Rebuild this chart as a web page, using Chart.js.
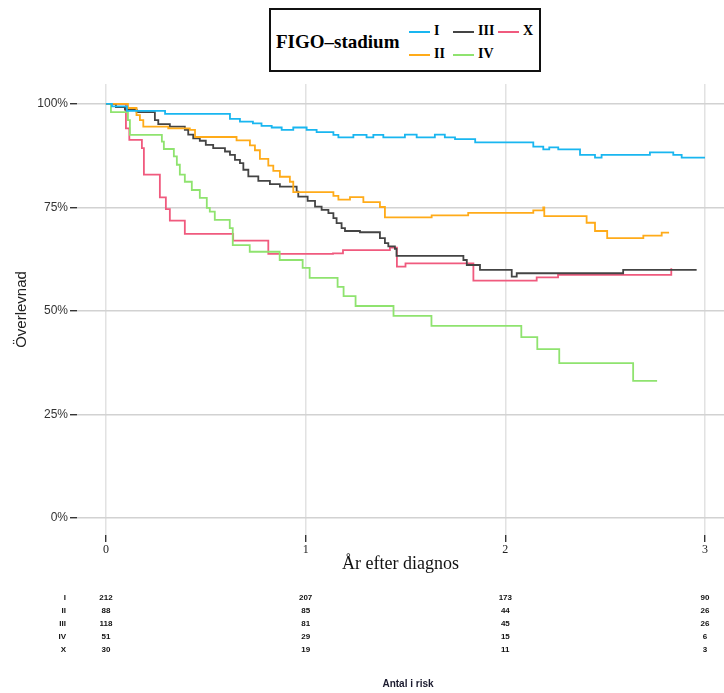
<!DOCTYPE html>
<html>
<head>
<meta charset="utf-8">
<script src="https://cdn.jsdelivr.net/npm/chart.js@4.4.1/dist/chart.umd.min.js"></script>
<style>
  body { margin: 0; background: #fff; }
  #wrap { position: relative; width: 724px; height: 693px; }
  #km { position: absolute; left: 0; top: 0; }
  #legendBox {
    position: absolute; left: 269px; top: 8px; width: 268px; height: 60px;
    border: 2px solid #111; background: #fff;
    font-family: "Liberation Serif", "DejaVu Serif", serif;
  }
  #legendBox .ttl { position: absolute; left: 5px; top: 21px; font-weight: bold; font-size: 19px; line-height: 22px; }
  #legendBox .item { position: absolute; font-size: 14px; font-weight: bold; line-height: 16px; }
  #legendBox .sw { display: inline-block; width: 21px; height: 2px; vertical-align: middle; margin-right: 4px; }
  .risk { position: absolute; font-family: "Liberation Sans", Arial, sans-serif; font-weight: bold; font-size: 8px; line-height: 10px; color: #111; white-space: nowrap; }
  #riskTitle { position: absolute; left: 408px; top: 678px; transform: translateX(-50%); font-family: "Liberation Sans", Arial, sans-serif; font-size: 10px; font-weight: 600; color: #1a1a2e; }
</style>
</head>
<body>
<div id="wrap">
  <canvas id="km" width="724" height="693"></canvas>
  <div id="legendBox"></div>
  <div id="riskBox"></div>
  <div id="riskTitle">Antal i risk</div>
</div>
<script>
// stage labels and colours
const groups = ['I', 'II', 'III', 'IV', 'X'];
const colors = ['#19b6f0', '#ffab19', '#444444', '#8fe36f', '#f05a7e'];

// survival curves (years, percent)
const timeI = [0, 0.03, 0.105, 0.296, 0.621, 0.671, 0.736, 0.779, 0.83, 0.88, 0.938, 1.005, 1.055, 1.139, 1.164, 1.239, 1.305, 1.339, 1.389, 1.497, 1.556, 1.647, 1.697, 1.748, 1.849, 2.14, 2.19, 2.22, 2.265, 2.374, 2.449, 2.482, 2.724, 2.841, 2.883, 3.0];
const survI = [100, 99.4, 98.3, 97.6, 96.4, 95.7, 95.3, 94.7, 94.3, 93.7, 94.3, 93.7, 93.2, 92.5, 91.9, 92.5, 91.9, 92.5, 91.9, 92.6, 91.9, 92.6, 91.9, 91.5, 90.7, 89.7, 89.0, 89.5, 89.0, 87.7, 87.0, 87.7, 88.3, 87.7, 87.0, 87.0];

const timeII = [0, 0.11, 0.153, 0.17, 0.187, 0.312, 0.42, 0.446, 0.654, 0.721, 0.746, 0.771, 0.813, 0.838, 0.871, 0.921, 0.938, 1.139, 1.164, 1.222, 1.289, 1.372, 1.397, 1.631, 1.814, 2.14, 2.19, 2.195, 2.407, 2.449, 2.51, 2.691, 2.783, 2.82];
const survII = [100, 99.0, 97.3, 96.1, 94.5, 94.1, 93.7, 92.0, 91.2, 90.0, 88.8, 86.7, 85.1, 83.8, 82.4, 81.2, 78.7, 77.8, 76.9, 77.5, 76.3, 75.1, 72.6, 73.1, 73.7, 74.3, 75.0, 72.9, 71.3, 69.3, 67.6, 68.2, 68.9, 68.9];

const timeIII = [0, 0.05, 0.095, 0.154, 0.245, 0.262, 0.32, 0.395, 0.412, 0.437, 0.47, 0.50, 0.537, 0.596, 0.621, 0.646, 0.671, 0.688, 0.713, 0.763, 0.821, 0.871, 0.955, 0.963, 1.01, 1.047, 1.08, 1.114, 1.139, 1.155, 1.18, 1.197, 1.272, 1.372, 1.397, 1.414, 1.447, 1.455, 1.79, 1.807, 1.873, 2.032, 2.057, 2.59, 2.958];
const survIII = [100, 99.2, 98.6, 98.0, 96.1, 95.1, 94.5, 93.7, 92.6, 91.7, 91.1, 90.1, 89.3, 88.5, 87.7, 86.5, 85.7, 84.1, 82.5, 81.4, 80.6, 80.0, 78.8, 77.6, 76.6, 75.2, 74.4, 73.6, 72.4, 71.2, 70.0, 69.3, 69.0, 67.6, 66.4, 65.6, 65.0, 63.3, 62.3, 61.1, 59.9, 58.3, 59.1, 59.9, 59.9];

const timeIV = [0, 0.025, 0.11, 0.12, 0.28, 0.29, 0.34, 0.355, 0.37, 0.395, 0.43, 0.47, 0.505, 0.52, 0.545, 0.62, 0.635, 0.72, 0.87, 0.985, 1.02, 1.16, 1.19, 1.25, 1.44, 1.63, 2.08, 2.16, 2.27, 2.64, 2.76];
const survIV = [100, 98.0, 96.1, 92.5, 90.9, 89.1, 87.3, 85.3, 82.9, 81.2, 79.2, 77.3, 74.9, 74.0, 72.0, 70.0, 65.9, 64.3, 62.3, 60.4, 58.0, 55.8, 53.6, 51.2, 48.8, 46.4, 43.7, 40.8, 37.4, 33.1, 33.1];

const timeX = [0, 0.10, 0.117, 0.18, 0.19, 0.27, 0.30, 0.32, 0.395, 0.637, 0.813, 1.137, 1.187, 1.422, 1.457, 1.50, 1.84, 2.157, 2.264, 2.83, 2.831];
const survX = [100, 94.1, 91.3, 89.3, 82.9, 77.4, 74.6, 71.8, 68.6, 67.0, 63.8, 63.9, 64.7, 65.3, 60.7, 61.5, 57.3, 58.1, 58.7, 58.7, 60.3];

// ticks
const xTicks = [0, 1, 2, 3];
const yTicks = [0, 25, 50, 75, 100];

// numbers at risk
const riskTimes = [0, 1, 2, 3];
const riskI = [212, 207, 173, 90];
const riskII = [88, 85, 44, 26];
const riskIII = [118, 81, 45, 26];
const riskIV = [51, 29, 15, 6];
const riskX = [30, 19, 11, 3];

const curves = [[timeI, survI], [timeII, survII], [timeIII, survIII], [timeIV, survIV], [timeX, survX]];
const riskRows = [riskI, riskII, riskIII, riskIV, riskX];

const datasets = curves.map((c, i) => ({
    label: groups[i],
    data: c[0].map((t, k) => ({x: t, y: c[1][k]})),
    borderColor: colors[i],
    borderWidth: 1.8,
    pointRadius: 0,
    stepped: 'before',
    fill: false
}));

const chart = new Chart(document.getElementById('km'), {
    type: 'line',
    data: {datasets: datasets},
    options: {
        responsive: false,
        animation: false,
        devicePixelRatio: 1,
        layout: {padding: {top: 84, right: 0, bottom: 118, left: 0}},
        plugins: {legend: {display: false}, tooltip: {enabled: false}},
        scales: {
            x: {
                type: 'linear', min: -0.145, max: 3.095,
                afterBuildTicks: (s) => { s.ticks = xTicks.map(v => ({value: v})); },
                afterFit: (s) => { s.height = 40; },
                grid: {color: '#e2e2e2', lineWidth: 1.5, tickColor: '#111', tickLength: 7, tickWidth: 1.2},
                border: {display: false},
                ticks: {color: '#222', padding: 1, font: {family: 'Liberation Serif', size: 12}},
                title: {display: true, text: 'År efter diagnos', color: '#111', padding: {top: 0, bottom: 0},
                    font: {family: 'Liberation Serif', size: 18}}
            },
            y: {
                min: -4.1, max: 104.8,
                afterBuildTicks: (s) => { s.ticks = yTicks.map(v => ({value: v})); },
                afterFit: (s) => { s.width = 77; },
                grid: {color: '#d2d2d2', lineWidth: 1.5, tickColor: '#111', tickLength: 7, tickWidth: 1.2},
                border: {display: false},
                ticks: {color: '#333', padding: 2, font: {family: 'Liberation Sans', size: 12},
                    callback: (v) => v + '%'},
                title: {display: true, text: 'Överlevnad', color: '#222', padding: {top: 13, bottom: 0},
                    font: {family: 'Liberation Sans', size: 15}}
            }
        }
    }
});

// legend box
const legendItems = [
    {g: 0, left: 138, top: 13}, {g: 2, left: 182, top: 13}, {g: 4, left: 227, top: 13},
    {g: 1, left: 138, top: 36}, {g: 3, left: 182, top: 36}
];
let legHtml = '<div class="ttl">FIGO–stadium</div>';
legendItems.forEach(it => {
    legHtml += `<div class="item" style="left:${it.left}px;top:${it.top}px"><span class="sw" style="background:${colors[it.g]}"></span>${groups[it.g]}</div>`;
});
document.getElementById('legendBox').innerHTML = legHtml;

// risk table, columns placed by the x scale
const xs = chart.scales.x;
const rowY = [593, 606, 619, 632, 645];
let riskHtml = '';
riskRows.forEach((row, r) => {
    riskHtml += `<div class="risk" style="left:36px;width:30px;text-align:right;top:${rowY[r]}px">${groups[r]}</div>`;
    row.forEach((n, j) => {
        const px = xs.getPixelForValue(riskTimes[j]);
        riskHtml += `<div class="risk" style="left:${px}px;top:${rowY[r]}px;transform:translateX(-50%)">${n}</div>`;
    });
});
document.getElementById('riskBox').innerHTML = riskHtml;
</script>
</body>
</html>
